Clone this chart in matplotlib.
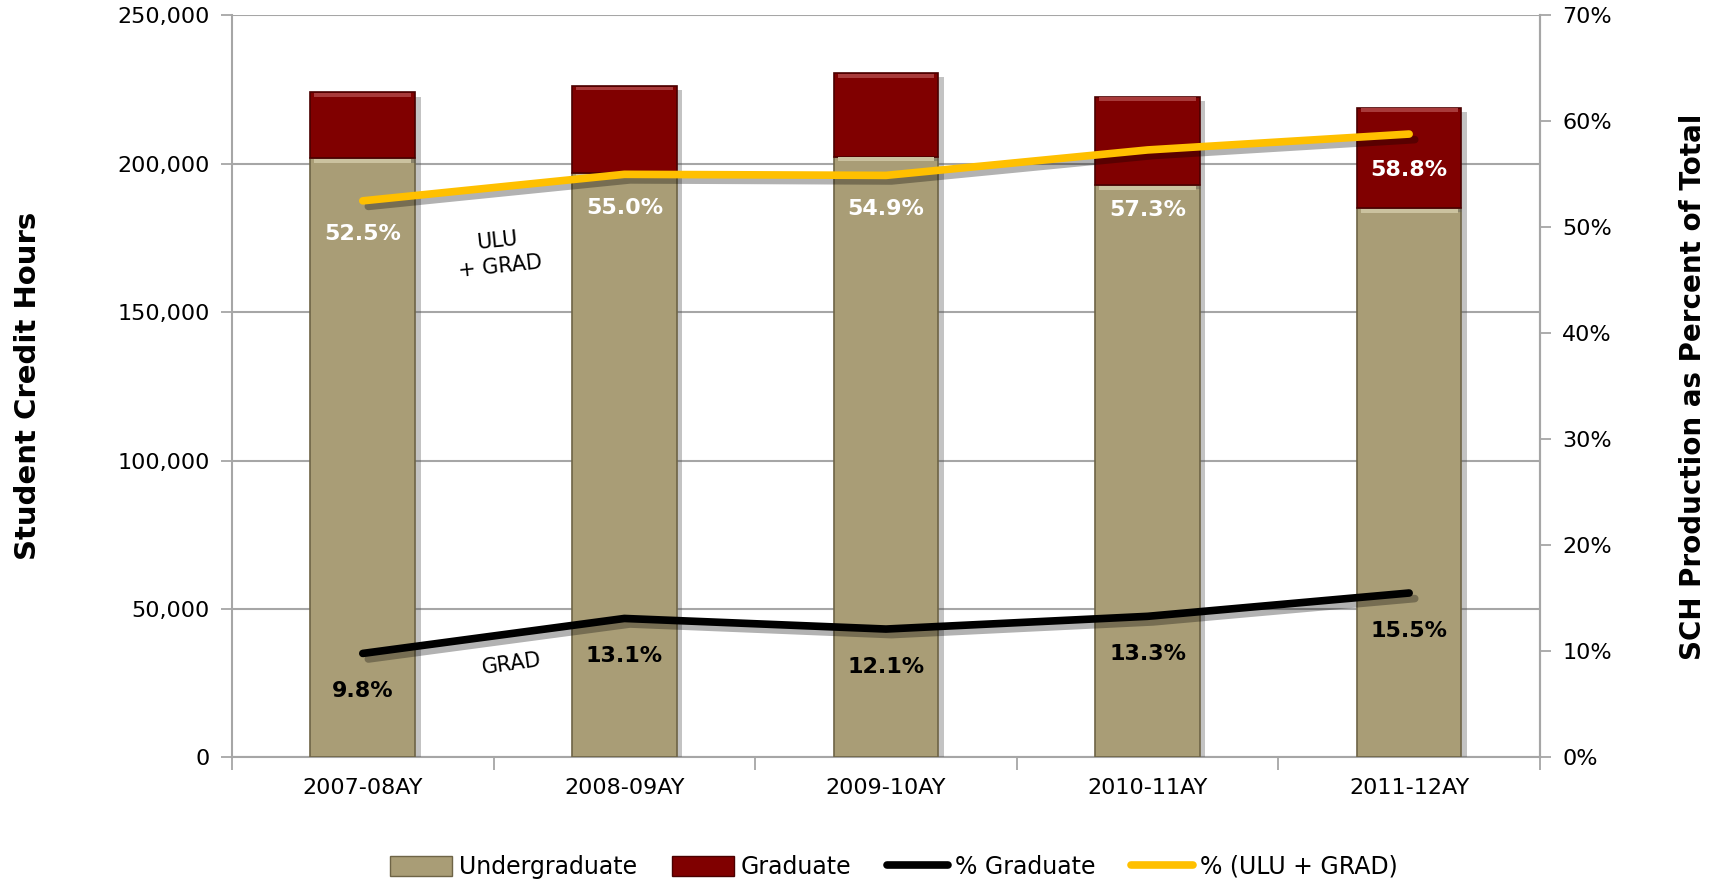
import numpy as np
import matplotlib.pyplot as plt
import matplotlib.patheffects as pe
from matplotlib.patches import Patch
from matplotlib.lines import Line2D
from matplotlib.ticker import FuncFormatter, PercentFormatter

years = ["2007-08AY", "2008-09AY", "2009-10AY", "2010-11AY", "2011-12AY"]
undergrad = [201800, 196800, 202400, 192800, 185000]
graduate = [22250, 29400, 28100, 29800, 33900]
pct_grad = [9.8, 13.1, 12.1, 13.3, 15.5]
pct_ulu_grad = [52.5, 55.0, 54.9, 57.3, 58.8]

# label offsets (points) below the yellow line points
ulu_label_dy = [-24, -24, -24, -43, -26]

UG_COLOR = "#a99d76"
GR_COLOR = "#800000"
YELLOW = "#ffc000"
GRID = "#a6a6a6"

plt.rcParams['font.family'] = ['DejaVu Sans']

fig = plt.figure(figsize=(17.16, 8.81), dpi=100)
ax = fig.add_axes([0.1352, 0.1404, 0.7622, 0.8422])
ax2 = ax.twinx()

x = np.arange(len(years))
shadow = [pe.SimplePatchShadow(offset=(4, -3), alpha=0.35, shadow_rgbFace="#555555"), pe.Normal()]

b1 = ax.bar(x, undergrad, width=0.40, color=UG_COLOR, edgecolor="#6e6446",
            linewidth=1.2, zorder=3)
b2 = ax.bar(x, graduate, width=0.40, bottom=undergrad, color=GR_COLOR,
            edgecolor="#4a0000", linewidth=1.2, zorder=3)
for p in list(b1) + list(b2):
    p.set_path_effects(shadow)

# light bevel strip on top of each segment
for xi, u, g in zip(x, undergrad, graduate):
    ax.bar(xi, 1300, width=0.37, bottom=u - 1500, color="#cbc29f", zorder=4, linewidth=0)
    ax.bar(xi, 1300, width=0.37, bottom=u + g - 1500, color="#a83a3a", zorder=4, linewidth=0)

ax.set_xlim(-0.5, len(years) - 0.5)
ax.set_ylim(0, 250000)
ax.set_yticks(np.arange(0, 250001, 50000))
ax.yaxis.set_major_formatter(FuncFormatter(lambda v, p: f"{int(v):,}"))
ax.grid(axis="y", color=GRID, linewidth=1.5, zorder=0)
ax.set_axisbelow(True)

ax.set_xticks(x)
ax.set_xticklabels(years)
ax.set_xticks(np.arange(-0.5, len(years)), minor=True)
ax.tick_params(axis="x", which="major", length=0, pad=15, labelsize=16)
ax.tick_params(axis="x", which="minor", length=9, width=1.3, color=GRID)
ax.tick_params(axis="y", length=8, width=1.3, color=GRID, labelsize=16, pad=8)

for s in ax.spines.values():
    s.set_color(GRID)
    s.set_linewidth(1.5)
ax.spines["top"].set_visible(False)
for s in ax2.spines.values():
    s.set_visible(False)
ax2.spines["right"].set_visible(True)
ax2.spines["right"].set_color(GRID)
ax2.spines["right"].set_linewidth(1.5)

ax2.set_ylim(0, 70)
ax2.set_yticks(np.arange(0, 71, 10))
ax2.yaxis.set_major_formatter(PercentFormatter(decimals=0))
ax2.tick_params(axis="y", length=8, width=1.3, color=GRID, labelsize=16, pad=8)

line_shadow = [pe.SimpleLineShadow(offset=(4, -4), alpha=0.3), pe.Normal()]
ax2.plot(x, pct_grad, color="black", linewidth=5.5, solid_capstyle="round",
         path_effects=line_shadow, zorder=5)
ax2.plot(x, pct_ulu_grad, color=YELLOW, linewidth=5.5, solid_capstyle="round",
         path_effects=line_shadow, zorder=5)

for xi, v, dy in zip(x, pct_ulu_grad, ulu_label_dy):
    ax2.annotate(f"{v:.1f}%", (xi, v), xytext=(0, dy), textcoords="offset points",
                 ha="center", va="center", color="white", fontsize=16, fontweight="bold")
for xi, v in zip(x, pct_grad):
    ax2.annotate(f"{v:.1f}%", (xi, v), xytext=(0, -27), textcoords="offset points",
                 ha="center", va="center", color="black", fontsize=16, fontweight="bold")

ax2.text(0.52, 47.5, "ULU\n+ GRAD", ha="center", va="center", fontsize=15,
         rotation=6, linespacing=1.4)
ax2.text(0.57, 8.8, "GRAD", ha="center", va="center", fontsize=15, rotation=8)

ax.set_ylabel("Student Credit Hours", fontsize=21, fontweight="bold", labelpad=54)
ax2.set_ylabel("SCH Production as Percent of Total", fontsize=20, fontweight="bold", labelpad=48)

handles = [
    Patch(facecolor=UG_COLOR, edgecolor="#6e6446", label="Undergraduate"),
    Patch(facecolor=GR_COLOR, edgecolor="#4a0000", label="Graduate"),
    Line2D([], [], color="black", linewidth=5.5, solid_capstyle="round", label="% Graduate"),
    Line2D([], [], color=YELLOW, linewidth=5.5, solid_capstyle="round", label="% (ULU + GRAD)"),
]
fig.legend(handles=handles, loc="center", bbox_to_anchor=(0.521, 0.016),
           ncol=4, frameon=False, fontsize=17, handlelength=2.6, handleheight=0.9,
           columnspacing=1.5, handletextpad=0.3)

fig.savefig("out.png", dpi=100)
